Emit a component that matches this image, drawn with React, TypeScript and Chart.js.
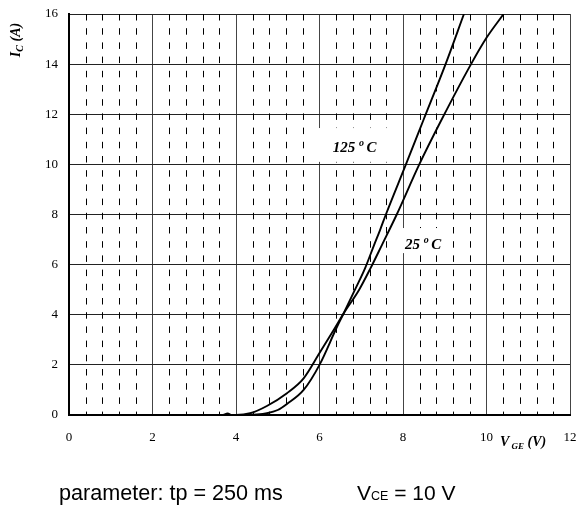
import React, { useEffect, useRef } from "react";
import { Chart, registerables } from "chart.js";

Chart.register(...registerables);

// ---- data ----
const xTickValues = [0, 2, 4, 6, 8, 10, 12];
const yTickValues = [0, 2, 4, 6, 8, 10, 12, 14, 16];
const minorStep = 0.4;

// steeper curve (left at the top)
const vgeA = [4.2, 4.5, 4.74, 5.0, 5.22, 5.62, 6.0, 6.42, 6.58, 6.85, 7.09, 7.3, 7.45, 7.59, 8.07, 8.49, 9.02, 9.46];
const icA = [0, 0.02, 0.07, 0.2, 0.44, 1.0, 2.0, 3.52, 4.06, 5.0, 5.85, 6.75, 7.38, 8.0, 10.0, 11.77, 14.0, 16.0];

// flatter curve (right at the top)
const vgeB = [3.7, 3.8, 3.9, 4.0, 4.34, 4.74, 5.22, 5.62, 6.0, 6.34, 6.58, 6.95, 7.22, 7.5, 7.85, 8.39, 8.92, 9.63, 10.0, 10.41];
const icB = [0, 0.06, 0, 0, 0.07, 0.36, 0.87, 1.46, 2.47, 3.39, 4.06, 5.0, 5.85, 6.8, 8.0, 10.0, 11.77, 14.0, 15.05, 16.0];

const SERIF = "'Liberation Serif', 'Times New Roman', serif";
const SANS = "'Liberation Sans', Arial, sans-serif";

type Part = { t: string; font: string; dy?: number };

function drawRich(ctx: CanvasRenderingContext2D, parts: Part[], x: number, y: number, align: "left" | "center" = "left") {
  let total = 0;
  for (const p of parts) {
    ctx.font = p.font;
    total += ctx.measureText(p.t).width;
  }
  let cx = align === "center" ? x - total / 2 : x;
  ctx.textAlign = "left";
  ctx.textBaseline = "alphabetic";
  for (const p of parts) {
    ctx.font = p.font;
    ctx.fillText(p.t, cx, y + (p.dy || 0));
    cx += ctx.measureText(p.t).width;
  }
}

const overlayPlugin = {
  id: "overlay",
  beforeDatasetsDraw(chart: any) {
    const { ctx, chartArea, scales } = chart;
    const xs = scales.x;
    const ys = scales.y;
    ctx.save();
    // minor dashed verticals
    ctx.strokeStyle = "#000";
    ctx.lineWidth = 1;
    ctx.setLineDash([6.5, 7.7]);
    const n = Math.round(12 / minorStep);
    for (let k = 1; k < n; k++) {
      if (k % 5 === 0) continue;
      const px = Math.round(xs.getPixelForValue(k * minorStep)) + 0.5;
      ctx.beginPath();
      ctx.moveTo(px, chartArea.top);
      ctx.lineTo(px, chartArea.bottom);
      ctx.stroke();
    }
    ctx.setLineDash([]);

    // label boxes
    ctx.fillStyle = "#fff";
    const box = (x0: number, x1: number, y0: number, y1: number) => {
      const a = xs.getPixelForValue(x0);
      const b = xs.getPixelForValue(x1);
      const c = ys.getPixelForValue(y0);
      const d = ys.getPixelForValue(y1);
      ctx.fillRect(a, d, b - a, c - d);
    };
    box(5.95, 7.8, 10.1, 11.45);
    box(7.88, 9.13, 6.46, 7.46);

    ctx.fillStyle = "#000";
    const big = `italic bold 15px ${SERIF}`;
    const sup = `italic bold 10px ${SERIF}`;
    drawRich(ctx, [
      { t: "125 ", font: big },
      { t: "o ", font: sup, dy: -6 },
      { t: "C", font: big },
    ], xs.getPixelForValue(6.84), ys.getPixelForValue(10.71) + 5, "center");
    drawRich(ctx, [
      { t: "25 ", font: big },
      { t: "o ", font: sup, dy: -6 },
      { t: "C", font: big },
    ], xs.getPixelForValue(8.48), ys.getPixelForValue(6.82) + 5, "center");
    ctx.restore();
  },
  afterDraw(chart: any) {
    const { ctx } = chart;
    ctx.save();
    ctx.fillStyle = "#000";
    // y axis title
    ctx.save();
    ctx.translate(20, 40);
    ctx.rotate(-Math.PI / 2);
    drawRich(ctx, [
      { t: "I", font: `italic bold 14px ${SERIF}` },
      { t: "C", font: `italic bold 10px ${SERIF}`, dy: 3 },
      { t: " (A)", font: `italic bold 14px ${SERIF}` },
    ], 0, 0, "center");
    ctx.restore();
    // x axis title
    drawRich(ctx, [
      { t: "V", font: `italic bold 14px ${SERIF}` },
      { t: " GE", font: `italic bold 9px ${SERIF}`, dy: 3 },
      { t: " (V)", font: `italic bold 14px ${SERIF}` },
    ], 500, 446);
    // bottom notes
    drawRich(ctx, [{ t: "parameter: tp = 250 ms", font: `21.6px ${SANS}` }], 59, 500);
    drawRich(ctx, [
      { t: "V", font: `21px ${SANS}` },
      { t: "CE", font: `12.5px ${SANS}` },
      { t: " = 10 V", font: `21px ${SANS}` },
    ], 357, 500);
    ctx.restore();
  },
};

export default function App() {
  const ref = useRef<HTMLCanvasElement | null>(null);
  useEffect(() => {
    document.body.style.margin = "0";
    const canvas = ref.current;
    if (!canvas) return;
    const chart = new Chart(canvas, {
      type: "scatter",
      data: {
        datasets: [
          {
            label: "A",
            data: vgeA.map((v, i) => ({ x: v, y: icA[i] })),
            showLine: true,
            borderColor: "#000",
            borderWidth: 1.9,
            pointRadius: 0,
            cubicInterpolationMode: "monotone",
          },
          {
            label: "B",
            data: vgeB.map((v, i) => ({ x: v, y: icB[i] })),
            showLine: true,
            borderColor: "#000",
            borderWidth: 1.9,
            pointRadius: 0,
            cubicInterpolationMode: "monotone",
          },
        ],
      },
      options: {
        responsive: false,
        animation: false,
        layout: { padding: { top: 14, right: 9, left: 0, bottom: 0 } },
        plugins: { legend: { display: false }, tooltip: { enabled: false } },
        scales: {
          x: {
            type: "linear",
            min: 0,
            max: 12,
            afterBuildTicks: (s: any) => {
              s.ticks = xTickValues.map((v) => ({ value: v }));
            },
            afterFit: (s: any) => {
              s.height = 91;
              s.paddingLeft = 0;
              s.paddingRight = 0;
            },
            ticks: {
              color: "#000",
              font: { family: SERIF, size: 13 },
              padding: 15,
              maxRotation: 0,
              autoSkip: false,
            },
            grid: { color: "#444", lineWidth: 1, drawTicks: false },
            border: { color: "#000", width: 2 },
          },
          y: {
            type: "linear",
            min: 0,
            max: 16,
            afterBuildTicks: (s: any) => {
              s.ticks = yTickValues.map((v) => ({ value: v }));
            },
            afterFit: (s: any) => {
              s.width = 69;
              s.paddingTop = 0;
              s.paddingBottom = 0;
            },
            ticks: {
              color: "#000",
              font: { family: SERIF, size: 13 },
              padding: 11,
              autoSkip: false,
            },
            grid: { color: "#222", lineWidth: 1, drawTicks: false },
            border: { color: "#000", width: 2 },
          },
        },
      },
      plugins: [overlayPlugin],
    } as any);
    return () => chart.destroy();
  }, []);
  return (
    <div style={{ width: 579, height: 506 }}>
      <canvas ref={ref} width={579} height={506} style={{ display: "block" }} />
    </div>
  );
}
